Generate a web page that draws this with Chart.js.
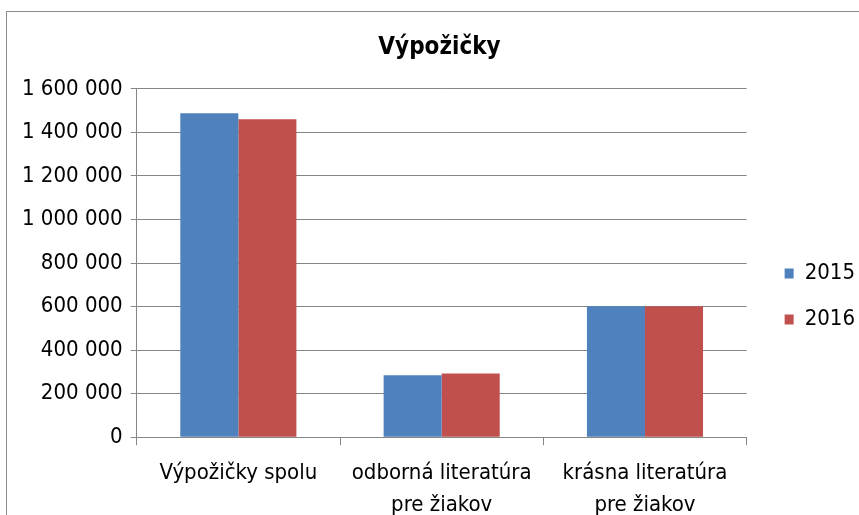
<!DOCTYPE html>
<html>
<head>
<meta charset="utf-8">
<script src="https://cdn.jsdelivr.net/npm/chart.js@4/dist/chart.umd.min.js"></script>
<style>
  html, body { margin: 0; padding: 0; overflow: hidden; background: #fff; }
  #frame { position: absolute; left: 6px; top: 11px; width: 1000px; height: 700px;
           border-left: 1px solid #8c8c8c; border-top: 1px solid #8c8c8c; }
  #wrap { position: absolute; left: 0; top: 0; width: 880px; height: 545px; }
</style>
</head>
<body>
<div id="frame"></div>
<div id="wrap"><canvas id="myChart" width="880" height="545"></canvas></div>
<script>
"use strict"
// categories and series
const categories = ['Výpožičky spolu', ['odborná literatúra', 'pre žiakov'], ['krásna literatúra', 'pre žiakov']];
const years = ['2015', '2016'];
const values2015 = [1488000, 284000, 601000];
const values2016 = [1460000, 293000, 601000];
const yTicks = [0, 200000, 400000, 600000, 800000, 1000000, 1200000, 1400000, 1600000];

const FONT = "'DejaVu Sans Condensed', 'Liberation Sans Narrow', sans-serif";

function fmt(v) {
    return String(v).replace(/\B(?=(\d{3})+(?!\d))/g, ' ');
}

// more room between plot and legend, legend pushed down a bit
const legendPlace = {
    id: 'legendPlace',
    beforeInit(chart) {
        const fit = chart.legend.fit;
        chart.legend.fit = function () {
            fit.bind(chart.legend)();
            this.width += 14;
        };
    },
    afterLayout(chart) {
        const lg = chart.legend;
        lg.left += 14;
        lg.top += 30;
        lg.bottom += 30;
    }
};

let data = {
    labels: categories,
    datasets: [{
        label: years[0],
        data: values2015,
        backgroundColor: '#4F81BD',
        borderWidth: 0
    }, {
        label: years[1],
        data: values2016,
        backgroundColor: '#C0504D',
        borderWidth: 0
    }]
};

let config = {
    type: 'bar',
    data: data,
    plugins: [legendPlace],
    options: {
        responsive: false,
        animation: false,
        layout: { padding: { left: 14, right: 15, top: 0, bottom: 12 } },
        datasets: { bar: { categoryPercentage: 0.571, barPercentage: 1.0 } },
        plugins: {
            title: {
                display: true,
                text: 'Výpožičky',
                color: '#000',
                font: { family: FONT, size: 24, weight: 'bold' },
                padding: { top: 33, bottom: 27 }
            },
            legend: {
                position: 'right',
                labels: {
                    color: '#000',
                    font: { family: FONT, size: 22 },
                    boxWidth: 9,
                    boxHeight: 10,
                    padding: 24
                }
            },
            tooltip: { enabled: false }
        },
        scales: {
            x: {
                grid: { drawOnChartArea: false, color: '#868686', tickLength: 8, offset: true },
                border: { color: '#868686' },
                ticks: { color: '#000', font: { family: FONT, size: 22, lineHeight: 1.45 }, padding: 12, maxRotation: 0 }
            },
            y: {
                min: 0,
                max: 1600000,
                afterBuildTicks: (axis) => { axis.ticks = yTicks.map(v => ({ value: v })); },
                grid: { color: '#868686', tickLength: 6 },
                border: { color: '#868686' },
                ticks: { color: '#000', font: { family: FONT, size: 22 }, padding: 8, callback: (v) => fmt(v) }
            }
        }
    }
};

let myChart = new Chart(document.getElementById('myChart'), config);
</script>
</body>
</html>
